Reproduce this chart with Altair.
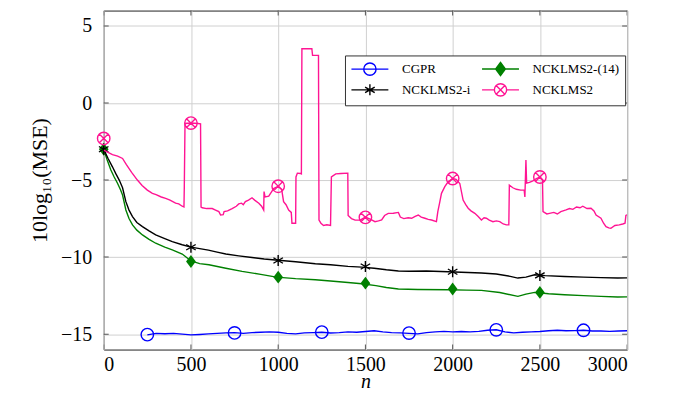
import altair as alt
import pandas as pd

SERIES = ["CGPR", "NCKLMS2-(14)", "NCKLMS2-i", "NCKLMS2"]
COLORS = ["#0000ff", "#008000", "#000000", "#ff1493"]
FILLS = ["transparent", "#008000", "transparent", "transparent"]
# legend is filled column by column: this order gives rows CGPR | NCKLMS2-(14), NCKLMS2-i | NCKLMS2
LEGEND_ORDER = [0, 2, 1, 3]
X_TICKS = [0, 500, 1000, 1500, 2000, 2500, 3000]
Y_TICKS = [-15, -10, -5, 0, 5]
X_RANGE = [0, 3000]
Y_RANGE = [-16, 6]

# ---- CGPR ----
cgpr_n = [250, 300, 350, 400, 450, 500, 550, 600, 650, 700,
          750, 800, 850, 900, 950, 1000, 1050, 1100, 1150, 1200,
          1250, 1300, 1350, 1400, 1450, 1500, 1550, 1600, 1650, 1700,
          1750, 1800, 1850, 1900, 1950, 2000, 2050, 2100, 2150, 2200,
          2250, 2300, 2350, 2400, 2450, 2500, 2550, 2600, 2650, 2700,
          2750, 2800, 2850, 2900, 2950, 3000]
cgpr_v = [-15.05, -14.95, -14.97, -14.95, -15.0, -15.05, -15.02, -14.98, -14.95, -14.92,
          -14.9, -14.95, -14.9, -14.88, -14.85, -14.88, -14.95, -14.98, -14.92, -14.9,
          -14.88, -14.93, -14.9, -14.85, -14.88, -14.83, -14.78, -14.85, -14.9, -14.92,
          -14.95, -14.98, -14.9, -14.85, -14.82, -14.85, -14.83, -14.85, -14.82, -14.75,
          -14.72, -14.85, -14.92, -14.88, -14.85, -14.83, -14.78, -14.75, -14.78, -14.77,
          -14.75, -14.8, -14.8, -14.82, -14.8, -14.78]
cgpr_mark_n = [250, 750, 1250, 1750, 2250, 2750]
cgpr_mark_v = [-15.03, -14.92, -14.87, -14.93, -14.72, -14.75]

# ---- NCKLMS2-(14) ----
g14_n = [0, 20, 41, 60, 79, 95, 108, 127, 145, 165, 190, 222, 260, 298, 350, 393, 450, 500,
         550, 603, 700, 793, 900, 990, 1100, 1213, 1300, 1400, 1479, 1560, 1620, 1689, 1800,
         1974, 2080, 2165, 2270, 2374, 2420, 2470, 2550, 2641, 2750, 2850, 2946, 3000]
g14_v = [-3.0, -3.7, -4.35, -4.8, -5.21, -5.6, -5.97, -6.94, -7.5, -7.91, -8.25, -8.56, -8.85,
         -9.1, -9.35, -9.53, -9.8, -10.25, -10.42, -10.5, -10.72, -10.93, -11.12, -11.3, -11.4,
         -11.47, -11.55, -11.65, -11.73, -11.85, -11.97, -12.07, -12.1, -12.12, -12.14, -12.16,
         -12.3, -12.55, -12.4, -12.29, -12.38, -12.44, -12.5, -12.55, -12.59, -12.58]
g14_mark_n = [0, 500, 1000, 1500, 2000, 2500]
g14_mark_v = [-3.0, -10.28, -11.3, -11.69, -12.07, -12.29]

# ---- NCKLMS2-i ----
ki_n = [0, 25, 50, 70, 89, 108, 127, 145, 165, 190, 222, 260, 298, 350, 393, 450, 500, 550,
        600, 650, 700, 774, 850, 920, 1000, 1100, 1213, 1300, 1400, 1479, 1550, 1620, 1689,
        1750, 1850, 1974, 2050, 2165, 2250, 2330, 2374, 2420, 2470, 2530, 2641, 2750, 2850,
        2946, 3000]
ki_v = [-3.0, -3.6, -4.14, -4.6, -5.0, -5.5, -6.4, -6.95, -7.37, -7.75, -8.02, -8.3, -8.56,
        -8.8, -9.0, -9.2, -9.35, -9.45, -9.55, -9.68, -9.8, -9.92, -10.03, -10.12, -10.2,
        -10.3, -10.43, -10.5, -10.6, -10.65, -10.72, -10.82, -10.9, -10.92, -10.9, -10.95,
        -10.98, -11.03, -11.1, -11.25, -11.36, -11.3, -11.15, -11.2, -11.26, -11.3, -11.33,
        -11.36, -11.35]
ki_mark_n = [0, 500, 1000, 1500, 2000, 2500]
ki_mark_v = [-3.0, -9.36, -10.22, -10.61, -10.95, -11.19]

# ---- NCKLMS2 ----
k2_n = [0, 25, 50, 80, 108, 130, 160, 193, 220, 250, 279, 300, 330, 355, 380, 412, 430, 450,
        460, 462, 466, 500, 540, 555, 558, 565, 590, 622, 641, 660, 670, 685, 690, 710, 736,
        760, 774, 790, 800, 812, 830, 850, 865, 889, 905, 917, 919, 925, 946, 960, 974, 1000,
        1020, 1031, 1045, 1060, 1075, 1079, 1095, 1100, 1102, 1110, 1127, 1133, 1136, 1193,
        1197, 1231, 1234, 1245, 1260, 1279, 1300, 1305, 1330, 1360, 1399, 1401, 1420, 1441,
        1470, 1500, 1530, 1555, 1575, 1593, 1610, 1631, 1660, 1689, 1700, 1720, 1745, 1765,
        1785, 1803, 1820, 1841, 1860, 1879, 1907, 1915, 1925, 1936, 1955, 1974, 2000, 2020,
        2041, 2060, 2075, 2089, 2105, 2127, 2145, 2165, 2180, 2193, 2210, 2231, 2250, 2270,
        2290, 2308, 2322, 2325, 2345, 2365, 2390, 2410, 2414, 2420, 2424, 2440, 2460, 2480,
        2500, 2515, 2518, 2540, 2555, 2580, 2600, 2620, 2650, 2670, 2689, 2710, 2730, 2746,
        2770, 2793, 2810, 2822, 2850, 2865, 2879, 2895, 2907, 2930, 2955, 2975, 2988, 2993,
        3000]
k2_v = [-3.05, -3.2, -3.35, -3.45, -3.6, -4.0, -4.5, -5.0, -5.35, -5.65, -5.86, -5.95, -6.1,
        -6.19, -6.3, -6.5, -6.55, -6.7, -6.75, -5.4, -1.33, -1.3, -1.33, -1.35, -6.75, -6.8,
        -6.85, -6.85, -6.95, -7.05, -7.27, -7.25, -7.05, -7.0, -6.85, -6.7, -6.55, -6.5, -6.6,
        -6.4, -6.3, -6.15, -6.3, -6.5, -6.7, -6.95, -5.75, -6.1, -6.05, -5.8, -5.55, -5.4,
        -5.6, -6.4, -6.6, -6.94, -7.1, -7.8, -7.8, -7.8, -4.8, -4.55, -4.57, -4.6, 3.52, 3.52,
        3.1, 3.09, -7.6, -7.8, -7.95, -7.9, -7.95, -4.79, -4.6, -4.57, -4.55, -7.3, -7.5,
        -7.6, -7.6, -7.4, -7.55, -7.7, -7.65, -7.59, -7.3, -7.16, -7.15, -7.1, -7.4, -7.5,
        -7.45, -7.48, -7.35, -7.27, -7.4, -7.48, -7.55, -7.59, -7.7, -7.05, -6.5, -5.86,
        -5.43, -5.11, -4.9, -4.95, -5.22, -6.3, -6.6, -6.83, -7.0, -7.16, -7.35, -7.59,
        -7.45, -7.48, -7.6, -7.7, -7.65, -7.7, -7.85, -7.91, -7.9, -5.33, -5.5, -5.6, -5.65,
        -5.65, -6.1, -3.7, -5.2, -5.15, -5.05, -4.9, -4.8, -5.0, -7.05, -7.2, -7.16, -7.1,
        -7.2, -7.05, -6.94, -6.85, -6.9, -6.75, -6.8, -6.7, -6.85, -6.83, -7.0, -7.27, -7.48,
        -7.8, -8.02, -8.1, -8.13, -7.95, -7.91, -7.85, -7.8, -7.3, -7.25]
k2_mark_n = [0, 500, 1000, 1500, 2000, 2500]
k2_mark_v = [-2.3, -1.3, -5.4, -7.42, -4.9, -4.8]

LINES = [(cgpr_n, cgpr_v), (g14_n, g14_v), (ki_n, ki_v), (k2_n, k2_v)]
MARKS = [(cgpr_mark_n, cgpr_mark_v), (g14_mark_n, g14_mark_v),
         (ki_mark_n, ki_mark_v), (k2_mark_n, k2_mark_v)]

# marker glyphs (plot) and legend glyphs (line + marker)
PLOT_SHAPES = [
    "M1,0A1,1,0,1,1,-1,0A1,1,0,1,1,1,0",
    "M0,-1L0.75,0L0,1L-0.75,0Z",
    "M0,-1V1M-0.866,-0.5L0.866,0.5M-0.866,0.5L0.866,-0.5",
    "M1,0A1,1,0,1,1,-1,0A1,1,0,1,1,1,0M-0.707,-0.707L0.707,0.707M-0.707,0.707L0.707,-0.707",
]
PLOT_SIZES = [156, 169, 121, 156]
PLOT_FILLED = [False, True, False, False]
LEG_SHAPES = [
    "M-2.85,0H2.85M0.95,0A0.95,0.95,0,1,1,-0.95,0A0.95,0.95,0,1,1,0.95,0",
    "M-2.85,0H2.85M0,-1L0.75,0L0,1L-0.75,0Z",
    "M-2.85,0H2.85M0,-0.85V0.85M-0.74,-0.425L0.74,0.425M-0.74,0.425L0.74,-0.425",
    "M-2.85,0H-0.95M0.95,0H2.85M0.95,0A0.95,0.95,0,1,1,-0.95,0A0.95,0.95,0,1,1,0.95,0"
    "M-0.67,-0.67L0.67,0.67M-0.67,0.67L0.67,-0.67",
]

FONT = "Liberation Serif"
xs = alt.Scale(domain=X_RANGE, nice=False, zero=False)
ys = alt.Scale(domain=Y_RANGE, nice=False, zero=False)

x_axis = alt.Axis(values=X_TICKS, title="n", titleFontStyle="italic", labelPadding=5,
                  titleY=38, titleBaseline="alphabetic", format="d",
                  labelFont=FONT, labelFontSize=20, titleFont=FONT, titleFontSize=20)
y_axis = alt.Axis(values=Y_TICKS, title="10log₁₀(MSE)", labelPadding=12, titlePadding=9,
                  format="d", labelFont=FONT, labelFontSize=20, titleFont=FONT,
                  titleFontSize=22)

layers = []
for i, s in enumerate(SERIES):
    ln, lv = LINES[i]
    df = pd.DataFrame({"n": ln, "v": lv, "i": list(range(len(ln)))})
    line = alt.Chart(df).mark_line(color=COLORS[i], strokeWidth=1.4, clip=True).encode(
        x=alt.X("n:Q", scale=xs, axis=x_axis),
        y=alt.Y("v:Q", scale=ys, axis=y_axis),
        order=alt.Order("i:Q"),
    )
    mn, mv = MARKS[i]
    mdf = pd.DataFrame({"n": mn, "v": mv})
    pts = alt.Chart(mdf).mark_point(
        shape=PLOT_SHAPES[i], size=PLOT_SIZES[i], filled=PLOT_FILLED[i],
        color=COLORS[i], opacity=1, strokeWidth=1.4, clip=False,
    ).encode(
        x=alt.X("n:Q", scale=xs, axis=x_axis),
        y=alt.Y("v:Q", scale=ys, axis=y_axis),
    )
    layers += [line, pts]

# inward tick marks on all four sides of the frame (half of each tick is clipped away)
xt_df = pd.DataFrame({"n": X_TICKS * 2,
                      "v": [Y_RANGE[0]] * len(X_TICKS) + [Y_RANGE[1]] * len(X_TICKS)})
yt_df = pd.DataFrame({"v": Y_TICKS * 2,
                      "n": [X_RANGE[0]] * len(Y_TICKS) + [X_RANGE[1]] * len(Y_TICKS)})
xticks = alt.Chart(xt_df).mark_tick(orient="vertical", size=10, thickness=1, color="#555555",
                                    opacity=1, clip=True).encode(
    x=alt.X("n:Q", scale=xs, axis=x_axis), y=alt.Y("v:Q", scale=ys, axis=y_axis))
yticks = alt.Chart(yt_df).mark_tick(orient="horizontal", size=10, thickness=1, color="#555555",
                                    opacity=1, clip=True).encode(
    x=alt.X("n:Q", scale=xs, axis=x_axis), y=alt.Y("v:Q", scale=ys, axis=y_axis))
layers = [xticks, yticks] + layers

leg_series = [SERIES[k] for k in LEGEND_ORDER]
leg_colors = [COLORS[k] for k in LEGEND_ORDER]
leg_fills = [FILLS[k] for k in LEGEND_ORDER]
leg_shapes = [LEG_SHAPES[k] for k in LEGEND_ORDER]

legend = alt.Legend(
    title=None, orient="none", legendX=242, legendY=45, columns=2,
    padding=6, rowPadding=2, columnPadding=8, gridAlign="each",
    strokeColor="#333333", fillColor="white", cornerRadius=0,
    symbolSize=169, symbolStrokeWidth=1.4, symbolOffset=11.5, labelOffset=24.7,
    labelFont=FONT, labelFontSize=13, labelColor="black", labelLimit=400,
)
leg_df = pd.DataFrame({"series": leg_series, "n": [-1000] * 4, "v": [0] * 4})
leg_layer = alt.Chart(leg_df).mark_point(clip=True, opacity=1, filled=False).encode(
    x=alt.X("n:Q", scale=xs, axis=x_axis),
    y=alt.Y("v:Q", scale=ys, axis=y_axis),
    stroke=alt.Stroke("series:N", scale=alt.Scale(domain=leg_series, range=leg_colors), legend=legend),
    fill=alt.Fill("series:N", scale=alt.Scale(domain=leg_series, range=leg_fills), legend=legend),
    shape=alt.Shape("series:N", scale=alt.Scale(domain=leg_series, range=leg_shapes), legend=legend),
)
layers.append(leg_layer)

chart = alt.layer(*layers).properties(
    width=525, height=340,
    autosize=alt.AutoSizeParams(type="none"),
    padding={"left": 96, "top": 2, "right": 40, "bottom": 44},
).configure_view(
    stroke="#222222", strokeWidth=1,
).configure_axis(
    labelFont=FONT, labelFontSize=20, labelColor="black",
    titleFont=FONT, titleFontSize=21, titleColor="black", titleFontWeight="normal",
    grid=True, gridColor="#d0d0d0", gridWidth=1, domain=False, ticks=False,
)

chart.save("out.html", embed_options={"renderer": "svg", "actions": False})
